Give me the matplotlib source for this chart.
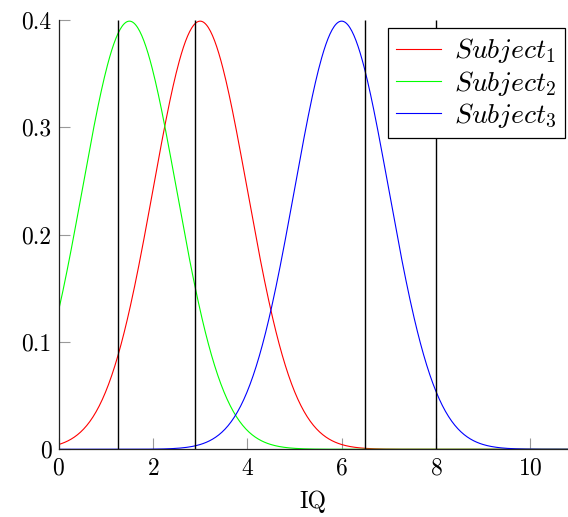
import numpy as np
import matplotlib
matplotlib.use("Agg")
import matplotlib.pyplot as plt

plt.rcParams['font.family'] = 'serif'
plt.rcParams['font.serif'] = ['cmr10', 'DejaVu Serif']
plt.rcParams['mathtext.fontset'] = 'cm'
plt.rcParams['axes.formatter.use_mathtext'] = True

# parameters of each subject's IQ distribution
subjects = [r'$Subject_1$', r'$Subject_2$', r'$Subject_3$']
means = [3.0, 1.5, 6.0]
sigmas = [1.0, 1.0, 1.0]
colors = ['red', '#00ff00', 'blue']

# thresholds drawn as vertical lines
thresholds = [1.25, 2.9, 6.5, 8.0]

x_ticks = [0, 2, 4, 6, 8, 10]
y_ticks = [0, 0.1, 0.2, 0.3, 0.4]


def normal_pdf(x, mu, sigma):
    return np.exp(-0.5 * ((x - mu) / sigma) ** 2) / (sigma * np.sqrt(2 * np.pi))


fig = plt.figure(figsize=(5.68, 5.17), dpi=100)
ax = fig.add_axes([0.1033, 0.131, 0.8967, 0.8303])

x = np.linspace(0, 11, 500)
for name, mu, sigma, c in zip(subjects, means, sigmas, colors):
    ax.plot(x, normal_pdf(x, mu, sigma), color=c, lw=0.8, label=name)

ax.vlines(thresholds, 0, 0.4, color='black', lw=1.0)

ax.set_xlim(0, 10.8)
ax.set_ylim(0, 0.4)
ax.set_xticks(x_ticks)
ax.set_yticks(y_ticks)
ax.set_yticklabels(['0', '0.1', '0.2', '0.3', '0.4'])
ax.tick_params(direction='in', length=8, width=0.8, color='#999999',
               labelsize=17, pad=6)
ax.tick_params(axis='y', pad=5)

for side in ['top', 'right']:
    ax.spines[side].set_visible(False)
for side in ['left', 'bottom']:
    ax.spines[side].set_linewidth(0.9)
    ax.spines[side].set_color('#222222')

ax.set_xlabel('IQ', fontsize=17, labelpad=8)

leg = ax.legend(loc='upper right', bbox_to_anchor=(0.994, 0.981), fontsize=20,
                fancybox=False, framealpha=1, edgecolor='black',
                handlelength=1.6, borderpad=0.3, labelspacing=0.12,
                handletextpad=0.5, borderaxespad=0)
leg.get_frame().set_linewidth(0.9)

fig.savefig('out.png', dpi=100)
